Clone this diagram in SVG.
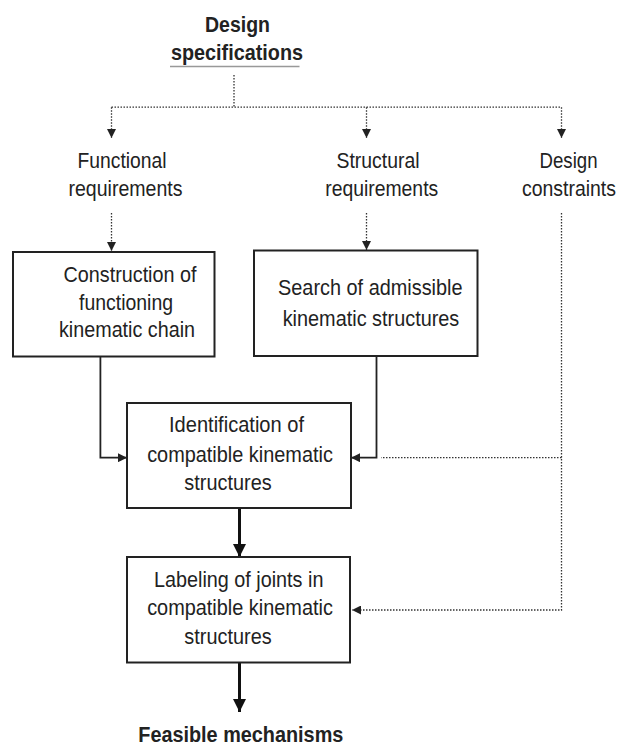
<svg xmlns="http://www.w3.org/2000/svg" width="623" height="745" viewBox="0 0 623 745">
<style>
  .t{font-family:"Liberation Sans",Arial,sans-serif;font-size:22px;fill:#222;text-anchor:middle}
  .b{font-weight:bold}
  .box{fill:#fff;stroke:#222;stroke-width:2}
  .dot{fill:none;stroke:#333;stroke-width:1.3;stroke-dasharray:1.5 1.5}
  .sol{fill:none;stroke:#222;stroke-width:1.8}
  .thk{fill:none;stroke:#111;stroke-width:3}
</style>
<defs>
  <marker id="ah" viewBox="0 0 10 10" refX="10" refY="5" markerUnits="userSpaceOnUse" markerWidth="10" markerHeight="9" orient="auto">
    <path d="M0,0 L10,5 L0,10 z" fill="#222"/>
  </marker>
  <marker id="ahL" viewBox="0 0 10 10" refX="10" refY="5" markerUnits="userSpaceOnUse" markerWidth="14" markerHeight="13" orient="auto">
    <path d="M0,0 L10,5 L0,10 z" fill="#111"/>
  </marker>
</defs>
<rect width="623" height="745" fill="#fff"/>

<g id="connectors">
  <path class="dot" d="M234,75 V107.2"/>
  <path class="dot" d="M111.5,107.2 H561.5"/>
  <path class="dot" d="M111.5,107.2 V138" marker-end="url(#ah)"/>
  <path class="dot" d="M366.5,107.2 V138" marker-end="url(#ah)"/>
  <path class="dot" d="M561.5,107.2 V138" marker-end="url(#ah)"/>
  <path class="dot" d="M111.5,213 V251" marker-end="url(#ah)"/>
  <path class="dot" d="M366.5,213 V250" marker-end="url(#ah)"/>
  <path class="dot" d="M561.5,213 V610 H352" marker-end="url(#ah)"/>
  <path class="dot" d="M561.5,457.7 H381"/>
  <path class="sol" d="M100.4,356 V457.7 H127" marker-end="url(#ah)"/>
  <path class="sol" d="M376.5,356 V457.7 H351" marker-end="url(#ah)"/>
  <path class="thk" d="M239.5,508 V557" marker-end="url(#ahL)"/>
  <path class="thk" d="M239.5,663 V712" marker-end="url(#ahL)"/>
</g>

<g id="design-specifications">
  <text class="t b" x="237.5" y="31.7" textLength="65" lengthAdjust="spacingAndGlyphs">Design</text>
  <text class="t b" x="237" y="59.5" textLength="132" lengthAdjust="spacingAndGlyphs">specifications</text>
  <line x1="170" y1="66.5" x2="299.5" y2="66.5" stroke="#999" stroke-width="1.6"/>
</g>

<g id="functional-requirements">
  <text class="t" x="122" y="168" textLength="89" lengthAdjust="spacingAndGlyphs">Functional</text>
  <text class="t" x="125.5" y="196" textLength="114" lengthAdjust="spacingAndGlyphs">requirements</text>
</g>

<g id="structural-requirements">
  <text class="t" x="378" y="168" textLength="83" lengthAdjust="spacingAndGlyphs">Structural</text>
  <text class="t" x="381.7" y="196" textLength="113" lengthAdjust="spacingAndGlyphs">requirements</text>
</g>

<g id="design-constraints">
  <text class="t" x="568.5" y="168" textLength="58" lengthAdjust="spacingAndGlyphs">Design</text>
  <text class="t" x="569" y="196" font-size="21" textLength="94" lengthAdjust="spacingAndGlyphs">constraints</text>
</g>

<g id="construction">
  <rect class="box" x="13" y="252" width="201.5" height="104.5"/>
  <text class="t" x="130" y="281.7" textLength="133" lengthAdjust="spacingAndGlyphs">Construction of</text>
  <text class="t" x="126" y="310" textLength="94" lengthAdjust="spacingAndGlyphs">functioning</text>
  <text class="t" x="127" y="337.3" textLength="136" lengthAdjust="spacingAndGlyphs">kinematic chain</text>
</g>

<g id="search">
  <rect class="box" x="254" y="250.5" width="223.5" height="105.5"/>
  <text class="t" x="370.3" y="295" textLength="184.5" lengthAdjust="spacingAndGlyphs">Search of admissible</text>
  <text class="t" x="371" y="325.5" textLength="176.6" lengthAdjust="spacingAndGlyphs">kinematic structures</text>
</g>

<g id="identification">
  <rect class="box" x="127" y="403" width="224" height="105"/>
  <text class="t" x="236.5" y="432" textLength="135" lengthAdjust="spacingAndGlyphs">Identification of</text>
  <text class="t" x="240" y="461.5" textLength="185.7" lengthAdjust="spacingAndGlyphs">compatible kinematic</text>
  <text class="t" x="228" y="490" textLength="87.3" lengthAdjust="spacingAndGlyphs">structures</text>
</g>

<g id="labeling">
  <rect class="box" x="127" y="557" width="223" height="105.5"/>
  <text class="t" x="238.7" y="587" textLength="169.4" lengthAdjust="spacingAndGlyphs">Labeling of joints in</text>
  <text class="t" x="240" y="615" textLength="185.7" lengthAdjust="spacingAndGlyphs">compatible kinematic</text>
  <text class="t" x="228" y="644" textLength="87.3" lengthAdjust="spacingAndGlyphs">structures</text>
</g>

<g id="feasible-mechanisms">
  <text class="t b" x="240.8" y="741.5" textLength="205" lengthAdjust="spacingAndGlyphs">Feasible mechanisms</text>
</g>
</svg>
